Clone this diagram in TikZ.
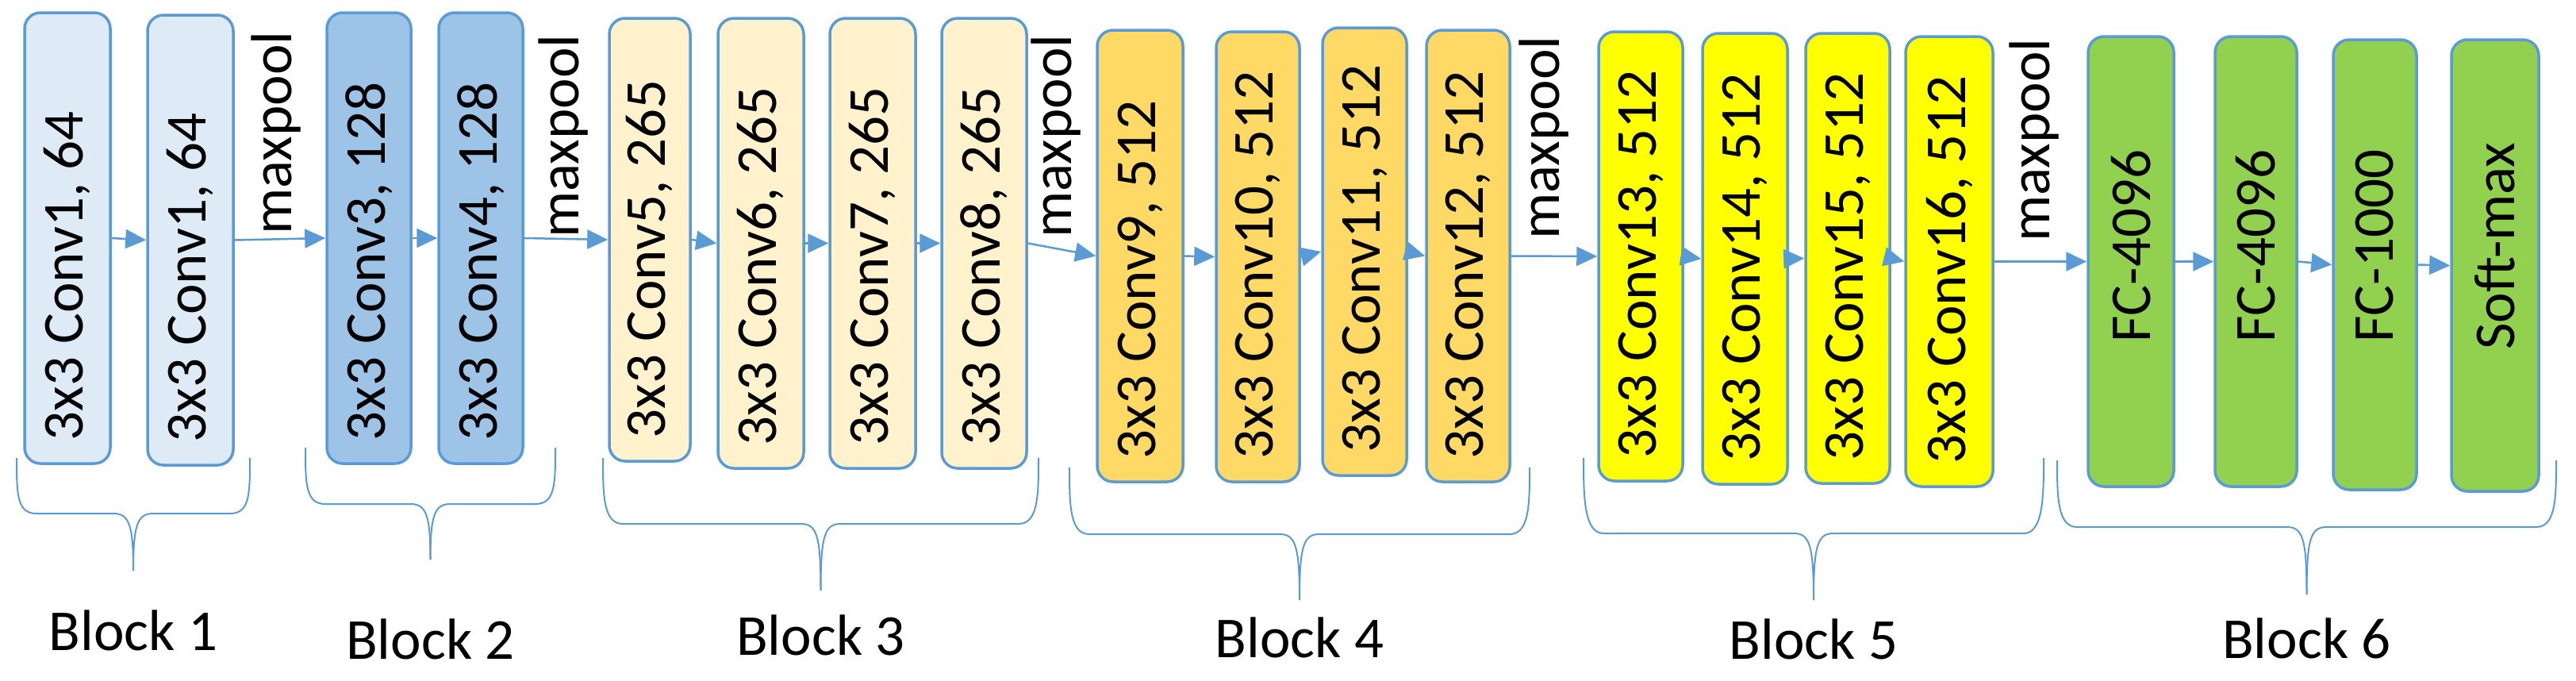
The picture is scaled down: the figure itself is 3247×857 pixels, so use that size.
\documentclass[tikz,border=0pt]{standalone}
\usepackage{fontspec}
\setmainfont{Carlito}
\usetikzlibrary{arrows.meta}
\definecolor{edge}{HTML}{5B9BD5}
\definecolor{cA}{HTML}{DEEBF7}
\definecolor{cB}{HTML}{9DC3E6}
\definecolor{cC}{HTML}{FFF2CC}
\definecolor{cD}{HTML}{FFD966}
\definecolor{cE}{HTML}{FFFF00}
\definecolor{cF}{HTML}{92D050}
\tikzset{
  box/.style={draw=edge, line width=3.5pt, rounded corners=20pt, inner sep=0pt},
  txt/.style={font=\fontsize{73}{80}\selectfont, inner sep=0pt, rotate=90},
  arr/.style={draw=edge, line width=2.5pt, -{Triangle[length=26pt,width=24pt]}},
  brace/.style={draw=edge, line width=2pt},
  lbl/.style={font=\fontsize{73}{80}\selectfont, inner sep=0pt}
}
% name, x1, x2, top, bottom, fill, text
\newcommand\convbox[7]{%
  \node[box, fill=#6, minimum width={#3-#2}, minimum height={#5-#4}] (#1) at ({(#2+#3)/2},{(#4+#5)/2}) {};
  \node[txt, anchor=west] (#1t) at ([yshift=30pt]#1.south) {#7};}
\newcommand\fcbox[7]{%
  \node[box, fill=#6, minimum width={#3-#2}, minimum height={#5-#4}] (#1) at ({(#2+#3)/2},{(#4+#5)/2}) {};
  \node[txt] (#1t) at ({(#2+#3)/2},310) {#7};}
% name, x1, x2, top, bottom, tip, label, labely
\newcommand\bracket[8]{%
  \coordinate (#1a) at (#2,#4);
  \coordinate (#1b) at ({(#2+#3)/2},#6);
  \coordinate (#1c) at (#3,#4);
  \draw[brace] (#1a) .. controls (#2,{#4+45}) and (#2,#5) .. ({#2+25},#5) -- ({(#2+#3)/2-25},#5) .. controls ({(#2+#3)/2-5},#5) and ({(#2+#3)/2},{#5+15}) .. (#1b);
  \draw[brace] (#1c) .. controls (#3,{#4+45}) and (#3,#5) .. ({#3-25},#5) -- ({(#2+#3)/2+25},#5) .. controls ({(#2+#3)/2+5},#5) and ({(#2+#3)/2},{#5+15}) .. (#1b);
  \node[lbl] (#1l) at ({(#2+#3)/2},#8) {#7};}
\begin{document}
\begin{tikzpicture}[x=1pt,y=-1pt]
\useasboundingbox (0,0) rectangle (3247,857);
\convbox{b1}{31}{139}{16}{584}{cA}{3x3 Conv1, 64}
\convbox{b2}{186}{294}{19}{586}{cA}{3x3 Conv1, 64}
\convbox{b3}{412}{518}{16}{584}{cB}{3x3 Conv3, 128}
\convbox{b4}{553}{659}{16}{584}{cB}{3x3 Conv4, 128}
\convbox{b5}{768}{870}{23}{581}{cC}{3x3 Conv5, 265}
\convbox{b6}{905}{1013}{23}{590}{cC}{3x3 Conv6, 265}
\convbox{b7}{1046}{1154}{23}{590}{cC}{3x3 Conv7, 265}
\convbox{b8}{1187}{1294}{23}{590}{cC}{3x3 Conv8, 265}
\convbox{b9}{1383}{1491}{38}{607}{cD}{3x3 Conv9, 512}
\convbox{b10}{1533}{1638}{40}{607}{cD}{3x3 Conv10, 512}
\convbox{b11}{1667}{1773}{35}{599}{cD}{3x3 Conv11, 512}
\convbox{b12}{1798}{1903}{38}{607}{cD}{3x3 Conv12, 512}
\convbox{b13}{2015}{2121}{40}{606}{cE}{3x3 Conv13, 512}
\convbox{b14}{2146}{2253}{42}{610}{cE}{3x3 Conv14, 512}
\convbox{b15}{2276}{2382}{42}{609}{cE}{3x3 Conv15, 512}
\convbox{b16}{2402}{2512}{46}{613}{cE}{3x3 Conv16, 512}
\fcbox{f1}{2632}{2740}{46}{613}{cF}{FC-4096}
\fcbox{f2}{2792}{2895}{46}{613}{cF}{FC-4096}
\fcbox{f3}{2941}{3046}{50}{617}{cF}{FC-1000}
\fcbox{f4}{3090}{3200}{50}{619}{cF}{Soft-max}
\foreach \a/\b in {b1/b2,b2/b3,b3/b4,b4/b5,b5/b6,b6/b7,b7/b8,b8/b9,b9/b10,b10/b11,b11/b12,b12/b13,b13/b14,b14/b15,b15/b16,b16/f1,f1/f2,f2/f3,f3/f4}
  \draw[arr] (\a.east) -- (\b.west);
\node[txt, anchor=west] (m1) at (348,296) {maxpool};
\node[txt, anchor=west] (m2) at (710,300) {maxpool};
\node[txt, anchor=west] (m3) at (1331,300) {maxpool};
\node[txt, anchor=west] (m4) at (1946,302) {maxpool};
\node[txt, anchor=west] (m5) at (2564,305) {maxpool};
\bracket{k1}{21}{315}{577}{647}{719}{Block 1}{794}
\bracket{k2}{385}{700}{564}{635}{705}{Block 2}{805}
\bracket{k3}{760}{1309}{577}{660}{744}{Block 3}{800}
\bracket{k4}{1348}{1928}{589}{673}{756}{Block 4}{803}
\bracket{k5}{1996}{2576}{577}{672}{756}{Block 5}{805}
\bracket{k6}{2593}{3222}{580}{664}{749}{Block 6}{804}
\end{tikzpicture}
\end{document}
